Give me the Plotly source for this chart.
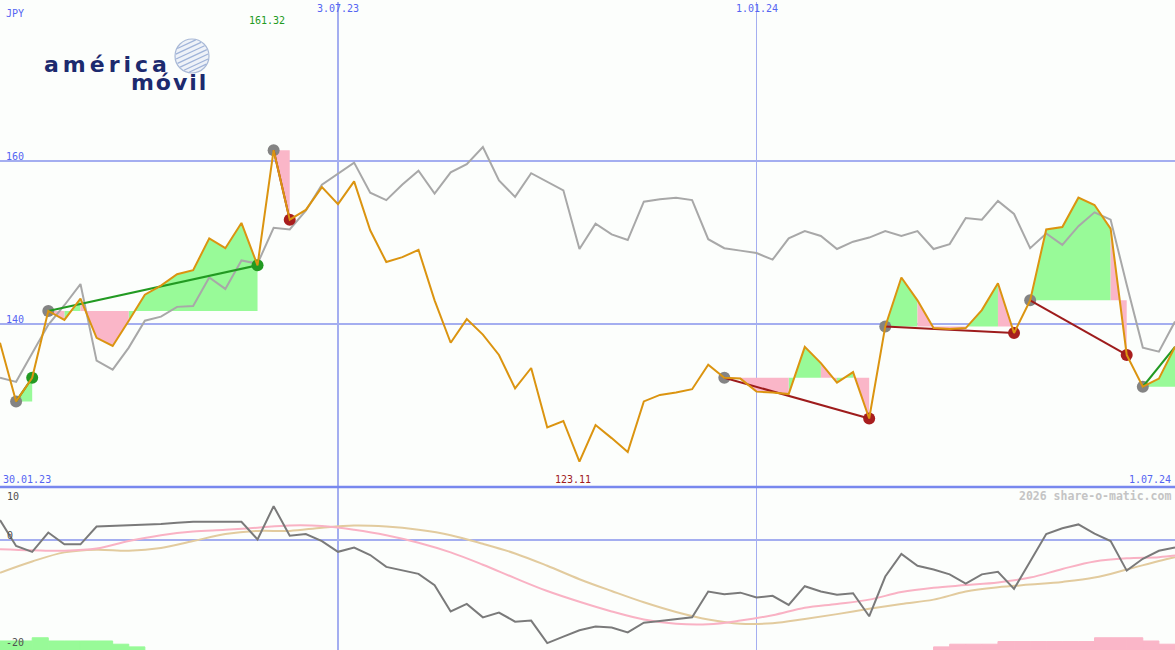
import math
import pandas as pd
import plotly.graph_objects as go

# weekly closes, JPY
WEEKS = pd.date_range("2023-02-06", periods=74, freq="7D")

PRICE = [137.7, 130.5, 133.4, 141.6, 140.5, 143.1, 138.3, 137.3, 140.4, 143.6,
         144.7, 146.1, 146.6, 150.5, 149.3, 152.4, 147.2, 161.32, 152.8, 154.0,
         156.8, 154.7, 157.5, 151.5, 147.6, 148.2, 149.1, 142.9, 137.7, 140.6,
         138.7, 136.2, 132.1, 134.6, 127.3, 128.1, 123.11, 127.6, 126.0, 124.3,
         130.5, 131.3, 131.6, 132.0, 135.0, 133.4, 133.3, 131.7, 131.6, 131.4,
         137.2, 135.2, 132.8, 134.1, 128.4, 139.7, 145.7, 142.9, 139.5, 139.4,
         139.5, 141.7, 145.0, 138.9, 142.9, 151.6, 151.9, 155.5, 154.6, 151.7,
         136.2, 132.3, 133.3, 137.2]

# comparison line (grey)
COMPARE = [133.4, 132.9, 136.4, 139.9, 142.3, 144.9, 135.5, 134.4, 137.1, 140.4,
           140.9, 142.1, 142.2, 145.7, 144.3, 147.8, 147.4, 151.8, 151.6, 153.9,
           157.1, 158.4, 159.8, 156.1, 155.2, 157.1, 158.8, 156.0, 158.6, 159.6,
           161.7, 157.6, 155.6, 158.5, 157.5, 156.4, 149.2, 152.3, 151.0, 150.3,
           155.0, 155.3, 155.5, 155.2, 150.4, 149.3, 149.0, 148.7, 147.9, 150.5,
           151.4, 150.8, 149.2, 150.1, 150.6, 151.4, 150.8, 151.4, 149.2, 149.8,
           153.0, 152.8, 155.1, 153.5, 149.3, 151.1, 149.7, 152.0, 153.7, 152.8,
           144.8, 137.1, 136.6, 140.3]

# trade signals: start week index / end week index (None = still open)
EVENT_START = [1, 3, 17, 45, 55, 64, 71]
EVENT_END = [2, 16, 18, 54, 63, 70, None]

# lower panel
MOMENTUM = [3.7, -1.1, -2.2, 1.4, -0.8, -0.8, 2.5, 2.6, 2.7, 2.9,
            3.0, 3.2, 3.4, 3.4, 3.4, 3.4, 0.1, 6.3, 0.8, 1.1,
            -0.2, -2.2, -1.4, -2.8, -5.0, -5.7, -6.3, -8.4, -13.3, -11.9,
            -14.4, -13.5, -15.2, -15.0, -19.2, -18.0, -16.8, -16.1, -16.3, -17.2,
            -15.4, -15.1, -14.8, -14.4, -9.6, -10.1, -9.8, -10.7, -10.4, -12.1,
            -8.6, -9.6, -10.2, -9.9, -14.2, -6.8, -2.6, -4.8, -5.5, -6.4,
            -8.1, -6.4, -5.9, -9.1, -4.0, 1.1, 2.2, 2.9, 1.2, -0.2,
            -5.7, -3.5, -2.0, -1.4]

SMOOTH_IDX = list(range(0, 73, 2)) + [73]
AVG_FAST = [-1.7, -1.9, -2.0, -1.6, -0.2, 0.9, 1.6, 1.9, 2.3, 2.7,
            2.6, 1.9, 0.9, -0.5, -2.3, -4.6, -7.1, -9.5, -11.5, -13.3,
            -14.8, -15.6, -15.7, -15.0, -14.0, -12.6, -11.9, -11.1, -9.7, -8.9,
            -8.4, -7.9, -7.0, -5.4, -4.0, -3.4, -3.2, -2.9]
AVG_SLOW = [-6.1, -4.0, -2.3, -1.8, -2.0, -1.5, -0.2, 1.1, 1.7, 1.7,
            2.3, 2.7, 2.5, 1.9, 0.9, -0.7, -2.5, -4.8, -7.3, -9.5,
            -11.6, -13.4, -14.8, -15.6, -15.5, -14.7, -13.8, -12.8, -11.9, -11.1,
            -9.6, -8.8, -8.3, -7.8, -7.0, -5.5, -3.9, -3.2]

HIST_GREEN_IDX = list(range(0, 9))
HIST_GREEN_TOP = [-18.8, -18.8, -18.2, -18.8, -18.8, -18.8, -18.8, -19.4, -19.9]
HIST_PINK_IDX = list(range(58, 73))
HIST_PINK_TOP = [-19.9, -19.4, -19.4, -19.4, -18.9, -18.9, -18.9, -18.9, -18.9,
                 -18.9, -18.2, -18.2, -18.2, -18.8, -19.4]

Y1_RANGE = [120.0, 179.75]
Y2_RANGE = [-20.48, 9.87]
H_LINES = [160, 140]
V_LINES = ["2023-07-03", "2024-01-01"]
V_LABELS = ["3.07.23", "1.01.24"]

W, H = 1175, 650
SPLIT = 1 - 487 / H

BG = "#fcfefc"
BLUE_TXT = "#5565f2"
GRID = "#a4aef0"
GREEN = "#229a22"
RED = "#9e1c1c"
ORANGE = "#db9410"
FILL_UP = "#98fa98"
FILL_DN = "#fab6c8"
MONO = "DejaVu Sans Mono"


def px(x):
    return x / W


def py(y):
    return 1 - y / H


fig = go.Figure()

# ---- level fills per segment (colour by where the segment ends)
ux, uy, dx, dy = [], [], [], []
for s, e in zip(EVENT_START, EVENT_END):
    e = len(PRICE) - 1 if e is None else e
    level = PRICE[s]
    for i in range(s, e):
        xs = [WEEKS[i], WEEKS[i], WEEKS[i + 1], WEEKS[i + 1], None]
        ys = [level, PRICE[i], PRICE[i + 1], level, None]
        if PRICE[i + 1] >= level:
            ux += xs
            uy += ys
        else:
            dx += xs
            dy += ys
fig.add_trace(go.Scatter(x=ux, y=uy, mode="lines", fill="toself", fillcolor=FILL_UP,
                         line=dict(width=0), hoverinfo="skip"))
fig.add_trace(go.Scatter(x=dx, y=dy, mode="lines", fill="toself", fillcolor=FILL_DN,
                         line=dict(width=0), hoverinfo="skip"))

# ---- comparison line
fig.add_trace(go.Scatter(x=WEEKS, y=COMPARE, mode="lines",
                         line=dict(color="#a8a8a8", width=2), hoverinfo="skip"))

# ---- signal connectors + markers
gx, gy, rx, ry = [], [], [], []
mx, my, mc = [], [], []
for s, e in zip(EVENT_START, EVENT_END):
    last = len(PRICE) - 1 if e is None else e
    up = PRICE[last] >= PRICE[s]
    if up:
        gx += [WEEKS[s], WEEKS[last], None]
        gy += [PRICE[s], PRICE[last], None]
    else:
        rx += [WEEKS[s], WEEKS[last], None]
        ry += [PRICE[s], PRICE[last], None]
    mx.append(WEEKS[s]); my.append(PRICE[s]); mc.append("#848484")
    if e is not None:
        mx.append(WEEKS[e]); my.append(PRICE[e]); mc.append(GREEN if up else "#a81e1e")

fig.add_trace(go.Scatter(x=mx, y=my, mode="markers",
                         marker=dict(size=12, color=mc, line=dict(width=0))))
fig.add_trace(go.Scatter(x=gx, y=gy, mode="lines", line=dict(color=GREEN, width=2)))
fig.add_trace(go.Scatter(x=rx, y=ry, mode="lines", line=dict(color=RED, width=2)))

# ---- price line
fig.add_trace(go.Scatter(x=WEEKS, y=PRICE, mode="lines",
                         line=dict(color=ORANGE, width=2)))

# ---- lower panel
bar_w = 7 * 24 * 3600 * 1000
fig.add_trace(go.Bar(x=[WEEKS[i] + pd.Timedelta(days=3.5) for i in HIST_GREEN_IDX],
                     y=[t - Y2_RANGE[0] for t in HIST_GREEN_TOP], base=Y2_RANGE[0],
                     width=bar_w, marker=dict(color=FILL_UP, line=dict(color=FILL_UP, width=1)),
                     yaxis="y2"))
fig.add_trace(go.Bar(x=[WEEKS[i] + pd.Timedelta(days=3.5) for i in HIST_PINK_IDX],
                     y=[t - Y2_RANGE[0] for t in HIST_PINK_TOP], base=Y2_RANGE[0],
                     width=bar_w, marker=dict(color=FILL_DN, line=dict(color=FILL_DN, width=1)),
                     yaxis="y2"))
fig.add_trace(go.Scatter(x=[WEEKS[i] for i in SMOOTH_IDX], y=AVG_SLOW, mode="lines",
                         line=dict(color="#e2cb9e", width=2, shape="spline"), yaxis="y2"))
fig.add_trace(go.Scatter(x=[WEEKS[i] for i in SMOOTH_IDX], y=AVG_FAST, mode="lines",
                         line=dict(color="#f9b2c4", width=2, shape="spline"), yaxis="y2"))
fig.add_trace(go.Scatter(x=WEEKS, y=MOMENTUM, mode="lines",
                         line=dict(color="#7a7a7a", width=2), yaxis="y2"))

# ---- grid
shapes = []
for v in H_LINES:
    shapes.append(dict(type="line", xref="paper", yref="y", x0=0, x1=1, y0=v, y1=v,
                       line=dict(color=GRID, width=2), layer="below"))
shapes.append(dict(type="line", xref="paper", yref="y2", x0=0, x1=1, y0=0, y1=0,
                   line=dict(color=GRID, width=2), layer="below"))
shapes.append(dict(type="line", xref="paper", yref="paper", x0=0, x1=1, y0=SPLIT, y1=SPLIT,
                   line=dict(color="#7888ee", width=2.5)))
for d, w in zip(V_LINES, [2, 1]):
    shapes.append(dict(type="line", xref="x", yref="paper", x0=d, x1=d, y0=0, y1=py(2),
                       line=dict(color=GRID, width=w), layer="below"))

# ---- logo globe
cx, cy, r = 192, 56, 17
shapes.append(dict(type="circle", xref="paper", yref="paper",
                   x0=px(cx - r), x1=px(cx + r), y0=py(cy + r), y1=py(cy - r),
                   fillcolor="#eef2f8", line=dict(color="#a9b9d6", width=1.2)))
ang = math.radians(-25)
for k in [-13, -8.5, -4, 0.5, 5, 9.5, 13.5]:
    half = math.sqrt(max(r * r - k * k, 0)) - 0.8
    ox, oy = -math.sin(ang) * k, math.cos(ang) * k
    x0, y0 = cx + ox - math.cos(ang) * half, cy + oy - math.sin(ang) * half
    x1, y1 = cx + ox + math.cos(ang) * half, cy + oy + math.sin(ang) * half
    shapes.append(dict(type="line", xref="paper", yref="paper",
                       x0=px(x0), y0=py(y0), x1=px(x1), y1=py(y1),
                       line=dict(color="#9fb3d8", width=1.3)))


def label(text, x, y, color, xanchor="left", size=10, xref="paper", bold=False):
    return dict(text=f"<b>{text}</b>" if bold else text, x=x, y=y, xref=xref, yref="paper",
                xanchor=xanchor, yanchor="middle", showarrow=False,
                font=dict(family=MONO, size=size, color=color))


# logo text as a single two-line block (small base size keeps the lines close)
logo_txt = ("<span style='font-size:22px;letter-spacing:4px'><b>américa</b></span><br>"
            "<span style='font-size:22px;letter-spacing:2px'><b>"
            + "&nbsp;" * 9 + "móvil</b></span>")

i_max = PRICE.index(max(PRICE))
i_min = PRICE.index(min(PRICE))
annotations = [
    label("JPY", px(4), py(13), BLUE_TXT),
    label(f"{max(PRICE):.2f}", WEEKS[i_max] - pd.Timedelta(days=3), py(21), GREEN,
          xanchor="center", xref="x"),
    label(f"{min(PRICE):.2f}", WEEKS[i_min] - pd.Timedelta(days=3), py(479), "#a01c1c",
          xanchor="center", xref="x"),
    label("160", px(4), py(156), BLUE_TXT),
    label("140", px(4), py(319), BLUE_TXT),
    label("30.01.23", px(1), py(479), BLUE_TXT),
    label("1.07.24", px(1173), py(479), BLUE_TXT, xanchor="right"),
    label("10", px(5), py(496), "#505050"),
    label("0", px(5), py(535), "#505050"),
    label("-20", px(4), py(642), "#505050"),
    label("2026 share-o-matic.com", px(1173), py(496), "#c4c4c4", xanchor="right",
          size=11.5, bold=True),
    dict(text=logo_txt, x=px(42), y=py(74), xref="paper", yref="paper",
         xanchor="left", yanchor="middle", align="left", showarrow=False,
         font=dict(family="DejaVu Sans", size=14, color="#1c2a6e")),
]
for d, t in zip(V_LINES, V_LABELS):
    annotations.append(label(t, d, py(8), BLUE_TXT, xanchor="center", xref="x"))

fig.update_layout(
    width=W, height=H,
    margin=dict(l=0, r=0, t=0, b=0, pad=0, autoexpand=False),
    paper_bgcolor=BG, plot_bgcolor=BG,
    showlegend=False, hovermode=False, barmode="overlay",
    xaxis=dict(type="date", range=[WEEKS[0], WEEKS[-1]], anchor="y2",
               showgrid=False, zeroline=False, showticklabels=False, ticks=""),
    yaxis=dict(domain=[SPLIT, 1], range=Y1_RANGE, showgrid=False, zeroline=False,
               showticklabels=False),
    yaxis2=dict(domain=[0, SPLIT], range=Y2_RANGE, showgrid=False, zeroline=False,
                showticklabels=False),
    shapes=shapes,
    annotations=annotations,
)

# page body has a default 8px margin; drop it so the figure fills the window
fig.write_html("out.html", config={"displayModeBar": False},
               post_script="document.body.style.margin='0';")
